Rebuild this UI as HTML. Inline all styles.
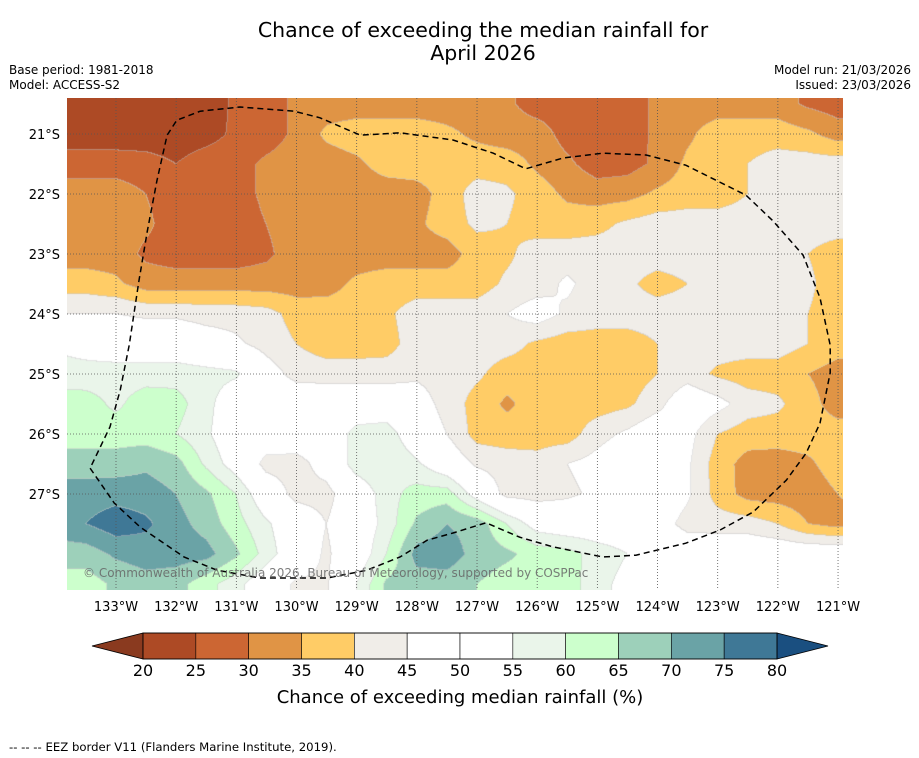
<!DOCTYPE html>
<html><head><meta charset="utf-8">
<style>
body{margin:0;background:#fff;width:919px;height:758px;overflow:hidden;position:relative;font-family:"DejaVu Sans","Liberation Sans",sans-serif;}
.t{position:absolute;white-space:nowrap;color:#000;}
</style></head><body>
<div class="t" style="left:0;width:966px;top:19px;text-align:center;font-size:20.5px;line-height:23px;">Chance of exceeding the median rainfall for<br>April 2026</div>
<div class="t" style="left:9px;top:63px;font-size:12px;line-height:15px;">Base period: 1981-2018<br>Model: ACCESS-S2</div>
<div class="t" style="right:8px;top:63px;font-size:12px;line-height:15px;text-align:right;">Model run: 21/03/2026<br>Issued: 23/03/2026</div>
<canvas id="map" width="776" height="492" style="position:absolute;left:67px;top:98px;"></canvas>
<svg id="ov" width="919" height="758" style="position:absolute;left:0;top:0;"></svg>
<div class="t" style="left:9px;top:740px;font-size:11.7px;">--  --  -- EEZ border V11 (Flanders Marine Institute, 2019).</div>
<script>
const lonValues=[134,133.5,133,132.5,132,131.5,131,130.5,130,129.5,129,128.5,128,127.5,127,126.5,126,125.5,125,124.5,124,123.5,123,122.5,122,121.5,121,120.5];
const latValues=[20.5,21,21.5,22,22.5,23,23.5,24,24.5,25,25.5,26,26.5,27,27.5,28,28.5];
const row205=[22,22,22,22,22,22,26,27.5,31,32.5,32.5,32.5,32.5,32.5,32.5,31,27.5,27.5,27.5,27.5,31,32.5,32.5,32.5,32.5,29,27.5,27.5];
const row21=[22,22,22,22,22,23,26,27.5,31,36,37.5,37.5,37.5,36,34,32.5,32.5,28,27.5,27.5,31,34,37.5,37.5,37.5,36,32.5,32.5];
const row215=[27.5,27.5,27.5,27,25,27.5,28,31,32.5,32.5,34,37,37.5,37.5,37.5,37.5,34,31,27.5,28,31,36,37.5,40,42.5,42.5,42.5,42.5];
const row22=[32.5,32.5,32.5,30,27.5,27.5,28,31,32.5,32.5,32.5,32.5,33,37,42.5,41,37.5,34,32.5,33,36,37.5,37.5,40,42.5,42.5,42.5,42.5];
const row225=[32.5,32.5,32.5,31,27.5,27.5,27.5,30,32.5,32.5,32.5,32.5,34,37.5,41,40,37.5,37.5,38.5,41,42.5,42.5,42.5,42.5,42.5,42.5,42.5,42.5];
const row23=[32.5,32.5,32.5,29,27.5,27.5,27.5,29,32.5,32.5,32.5,32.5,32.5,32.5,37.5,39,42.5,42.5,42.5,42.5,42.5,42.5,42.5,42.5,42.5,40,37.5,37.5];
const row235=[37.5,37.5,36,32.5,32.5,32.5,32.5,32.5,32.5,33,36,37.5,37.5,37.5,37.5,41,42.5,46,42.5,41,38,40,42.5,42.5,42.5,41,37.5,37.5];
const row24=[45,45,45,44,44,43,43,42,38,37.5,37.5,39,42.5,42.5,42.5,45,48,44,42.5,42.5,42.5,42.5,42.5,42.5,42.5,40,37.5,37.5];
const row245=[54,52,50,50,50,48,46,43,40,37.5,37.5,38,42.5,42.5,42.5,42,39,37.5,37.5,37.5,40,42.5,42.5,42.5,42.5,40,37.5,37.5];
const row25=[57.5,57.5,58,58,58,57,56,48,43,42.5,42.5,42.5,44,42.5,41,37.5,37.5,37.5,37.5,37.5,40,42.5,39,37.5,37.5,35,32.5,32.5];
const row255=[62.5,62,59,62.5,62,57,50,50,50,50,50,50,48,43,38,34,37.5,37.5,37.5,39,43,50,47,42.5,41,37,32.5,32.5];
const row26=[62.5,62.5,62.5,62.5,60,56,50,50,50,50,57,58,50,45,38,37.5,37.5,37.5,43,46,50,47,40,37.5,37.5,37.5,37.5,37.5];
const row265=[67.5,67.5,67.5,69,67,59,52,43,42.5,48,58,60,56,50,44,42.5,42,45,47,50,50,46,37.5,33,32.5,34,37.5,37.5];
const row27=[72.5,72.5,73,72.5,70,66,60,50,43,43,50,58,62,62.5,52,43,42.5,44,46,50,50,46,38,33,32.5,32,35,37.5];
const row275=[72.5,75,78,76,72,68,62,56,50,45,50,57,66,70,68,60,52,50,50,50,48,43,42.5,42.5,40,35,33,35];
const row28=[67.5,67.5,71,72.5,72.5,72,66,58,50,44,50,60,72,73,68,66,63,62,58,55,50,50,50,50,50,50,50,50];
const row285=[62.5,62.5,66,68,67,62,57,50,44,44,55,66,67.5,67.5,65,62.5,62.5,62.5,57,53,50,50,50,50,50,50,50,50];
const chanceRows=[row205,row21,row215,row22,row225,row23,row235,row24,row245,row25,row255,row26,row265,row27,row275,row28,row285];
const levels=[20,25,30,35,40,45,50,55,60,65,70,75,80];
const tickLons=[133,132,131,130,129,128,127,126,125,124,123,122,121];
const tickLats=[21,22,23,24,25,26,27];
const binColors=['#8a3a1f','#ad4a25','#cc6633','#e09445','#ffcc66','#f0ede8','#ffffff','#ffffff','#eaf5ea','#ccffcc','#9dd0ba','#6aa3a6','#3f7896','#1a4f80'];
const eezLon=[133.43,133.03,132.60,131.87,131.32,130.61,129.49,128.83,128.28,127.83,127.40,126.85,126.29,125.74,124.91,124.36,123.53,122.96,122.41,121.86,121.53,121.30,121.13,121.13,121.30,121.58,122.08,122.53,123.53,124.19,124.91,125.57,126.19,126.73,127.40,128.28,128.94,129.61,130.04,130.94,131.60,131.99,132.15,132.32,132.48,132.62,132.78,132.93,133.10,133.43];
const eezLat=[26.57,27.15,27.55,28.05,28.27,28.40,28.40,28.27,28.05,27.77,27.65,27.48,27.72,27.88,28.05,28.02,27.82,27.60,27.30,26.77,26.32,25.82,24.98,24.52,23.73,23.02,22.45,22.02,21.52,21.35,21.32,21.40,21.58,21.32,21.10,20.98,21.02,20.73,20.62,20.55,20.62,20.77,21.02,21.78,22.62,23.45,24.52,25.27,25.88,26.57];

const xOf=lon=>116+(133-lon)*60.17;
const yOf=lat=>134+(lat-21)*60;
const lonOf=x=>133-(x-116)/60.17;
const latOf=y=>21+(y-134)/60;
function binOf(v){let b=0;while(b<levels.length&&v>=levels[b])b++;return b;}
function valueAt(lon,lat){
  let c=(lonValues[0]-lon)/0.5, r=(lat-latValues[0])/0.5;
  c=Math.max(0,Math.min(lonValues.length-1.0001,c));r=Math.max(0,Math.min(latValues.length-1.0001,r));
  const c0=Math.floor(c),r0=Math.floor(r),fc=c-c0,fr=r-r0;
  const a=chanceRows[r0][c0],b=chanceRows[r0][c0+1],d=chanceRows[r0+1][c0],e=chanceRows[r0+1][c0+1];
  return a*(1-fc)*(1-fr)+b*fc*(1-fr)+d*(1-fc)*fr+e*fc*fr;
}
function hex(h){return [parseInt(h.substr(1,2),16),parseInt(h.substr(3,2),16),parseInt(h.substr(5,2),16)];}
const rgb=binColors.map(hex);
(function(){
  const cv=document.getElementById('map'),ctx=cv.getContext('2d');
  const W=cv.width,H=cv.height,img=ctx.createImageData(W,H),bins=new Int8Array(W*H);
  for(let py=0;py<H;py++)for(let px=0;px<W;px++){
    let b=binOf(valueAt(lonOf(67+px+0.5),latOf(98+py+0.5)));
    if(b===7)b=6;
    bins[py*W+px]=b;
  }
  for(let py=0;py<H;py++)for(let px=0;px<W;px++){
    const i=py*W+px,b=bins[i];let col=rgb[b];
    const edge=(px<W-1&&bins[i+1]!==b)||(py<H-1&&bins[i+W]!==b);
    if(edge){col=[(col[0]+200)/2,(col[1]+200)/2,(col[2]+200)/2];}
    img.data[i*4]=col[0];img.data[i*4+1]=col[1];img.data[i*4+2]=col[2];img.data[i*4+3]=255;
  }
  ctx.putImageData(img,0,0);
})();
const NS='http://www.w3.org/2000/svg';
const ov=document.getElementById('ov');
const FF='DejaVu Sans, Liberation Sans, sans-serif';
function mk(tag,attrs,parent){const e=document.createElementNS(NS,tag);for(const k in attrs)e.setAttribute(k,attrs[k]);(parent||ov).appendChild(e);return e;}
tickLons.forEach(lon=>{
  const x=xOf(lon);
  const l=mk('line',{x1:x,x2:x,y1:98,y2:590,stroke:'#555','stroke-width':0.8,'stroke-dasharray':'1,2'});
  
  
  const t=mk('text',{x:x,y:611,'text-anchor':'middle','font-size':13,'font-family':FF});
  t.textContent=lon+'°W';
  
  
});
tickLats.forEach(lat=>{
  const y=yOf(lat);
  const l=mk('line',{x1:67,x2:843,y1:y,y2:y,stroke:'#555','stroke-width':0.8,'stroke-dasharray':'1,2'});
  
  
  const t=mk('text',{x:60,y:y+5,'text-anchor':'end','font-size':13,'font-family':FF});
  t.textContent=lat+'°S';
  
  
});
const eez=mk('polyline',{points:eezLon.map((lon,i)=>xOf(lon).toFixed(1)+','+yOf(eezLat[i]).toFixed(1)).join(' '),fill:'none',stroke:'#000','stroke-width':1.5,'stroke-dasharray':'6,4'});


const cp=mk('text',{x:83,y:577,'font-size':12,fill:'#666','fill-opacity':0.85,'font-family':FF});
cp.textContent='© Commonwealth of Australia 2026, Bureau of Meteorology, supported by COSPPac';


const cbL=143,cbR=777,cbT=633,cbB=659,bw=(cbR-cbL)/(levels.length-1);
const lt=mk('polygon',{points:`92,646 ${cbL},${cbT} ${cbL},${cbB}`,fill:binColors[0],stroke:'#000','stroke-width':0.8});


const rt=mk('polygon',{points:`828,646 ${cbR},${cbT} ${cbR},${cbB}`,fill:binColors[binColors.length-1],stroke:'#000','stroke-width':0.8});


for(let i=0;i<levels.length-1;i++){
  const r=mk('rect',{x:cbL+i*bw,y:cbT,width:bw,height:cbB-cbT,fill:binColors[i+1],stroke:'#000','stroke-width':0.6});
  
  
}
mk('rect',{x:cbL,y:cbT,width:cbR-cbL,height:cbB-cbT,fill:'none',stroke:'#000','stroke-width':0.8});
levels.forEach((v,i)=>{
  const t=mk('text',{x:cbL+i*bw,y:676,'text-anchor':'middle','font-size':16,'font-family':FF});
  t.textContent=v;
  
  
});
const cl=mk('text',{x:460,y:703,'text-anchor':'middle','font-size':18,'font-family':FF});
cl.textContent='Chance of exceeding median rainfall (%)';


</script>
</body></html>
